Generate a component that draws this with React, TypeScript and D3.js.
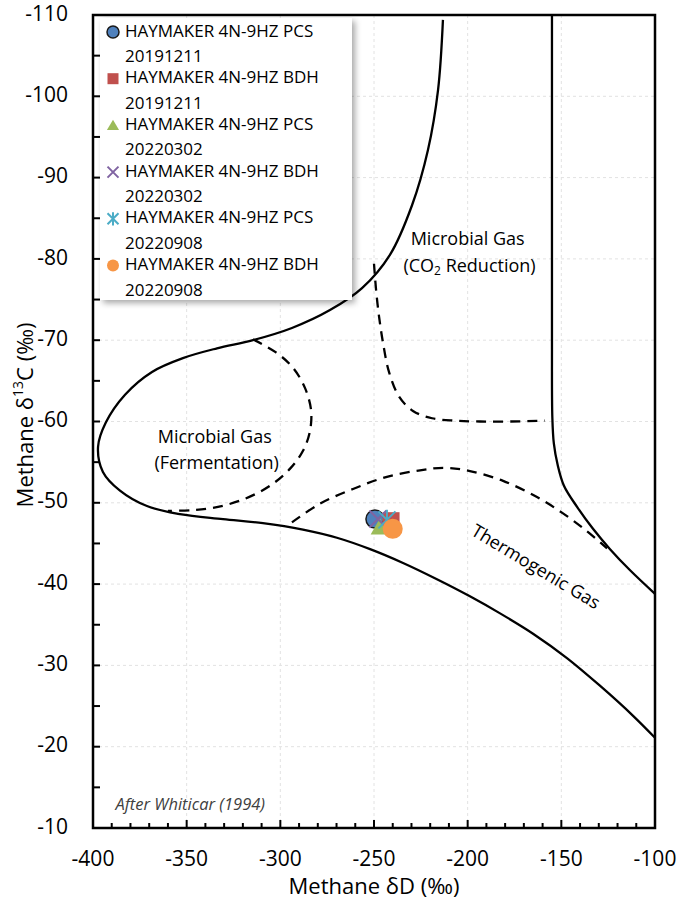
import * as d3 from 'd3';
import { useEffect, useRef } from 'react';

// axis ticks
const xTicks = [-400, -350, -300, -250, -200, -150, -100];
const yTicks = [-110, -100, -90, -80, -70, -60, -50, -40, -30, -20, -10];

// sample points (δD, δ13C)
const seriesNames = [
  'HAYMAKER 4N-9HZ PCS',
  'HAYMAKER 4N-9HZ BDH',
  'HAYMAKER 4N-9HZ PCS',
  'HAYMAKER 4N-9HZ BDH',
  'HAYMAKER 4N-9HZ PCS',
  'HAYMAKER 4N-9HZ BDH',
];
const seriesDates = ['20191211', '20191211', '20220302', '20220302', '20220908', '20220908'];
const seriesD = [-249.5, -240.9, -246.8, -247.9, -243.1, -240.0];
const seriesC = [-48.0, -47.8, -47.0, -48.0, -47.9, -46.8];
const seriesColors = ['#4F81BD', '#C0504D', '#9BBB59', '#8064A2', '#4BACC6', '#F79646'];
const seriesShapes = ['circle', 'square', 'triangle', 'x', 'star', 'circle'];

// Whiticar (1994) field boundaries
const boundaryLeft: [number, number][] = [
  [-213.2, -109.4], [-215.8, -100.8], [-221.2, -93.4], [-229.7, -86.6], [-241.5, -80.5],
  [-256.4, -76.4], [-273.5, -73.7], [-293.8, -71.5], [-314.6, -70.0], [-333.8, -69.0],
  [-352.0, -67.8], [-368.5, -66.1], [-382.9, -63.3], [-393.1, -59.9], [-397.3, -56.9],
  [-394.7, -53.8], [-385.6, -51.5], [-371.2, -49.6], [-353.6, -48.6], [-330.6, -48.0],
  [-309.3, -47.5], [-287.9, -46.7], [-269.8, -45.7], [-252.1, -44.3], [-234.5, -42.6],
  [-216.4, -40.6], [-198.8, -38.5], [-182.7, -36.4], [-165.1, -33.9], [-147.0, -30.9],
  [-129.4, -27.5], [-111.7, -23.8], [-100.0, -21.1],
];
const boundaryRight: [number, number][] = [
  [-155.0, -110], [-155.0, -95], [-155.0, -81.1], [-155.0, -70], [-154.8, -60.5],
  [-154.0, -57.3], [-152.0, -54.7], [-148.6, -52.1], [-141.6, -49.5], [-133.1, -46.8],
  [-124.0, -44.3], [-113.3, -41.7], [-100.0, -38.8],
];
const dashFermentation: [number, number][] = [
  [-314.6, -70.1], [-302.3, -68.5], [-293.2, -66.6], [-286.8, -64.1], [-283.6, -61.4],
  [-284.2, -58.8], [-287.9, -56.4], [-294.8, -54.2], [-305.5, -52.1], [-318.9, -50.5],
  [-333.3, -49.5], [-347.2, -49.1], [-360.0, -49.0],
];
const dashCO2: [number, number][] = [
  [-250.0, -79.4], [-248.9, -76.2], [-247.3, -72.9], [-245.2, -69.7], [-242.0, -66.1],
  [-236.7, -63.1], [-229.2, -61.3], [-219.0, -60.4], [-206.8, -60.1], [-193.4, -60.0],
  [-177.4, -60.0], [-158.7, -60.1],
];
const dashThermogenic: [number, number][] = [
  [-293.8, -47.6], [-278.8, -49.9], [-261.2, -51.7], [-243.1, -53.2], [-225.4, -54.0],
  [-212.1, -54.3], [-198.8, -53.9], [-181.1, -52.7], [-163.0, -50.7], [-149.1, -48.7],
  [-136.3, -46.5], [-125.6, -44.4],
];

const W = 695;
const H = 908;
const FONT = '"Open Sans", "Noto Sans", sans-serif';

function drawMarker(g: d3.Selection<SVGGElement, unknown, null, undefined>, shape: string, color: string, s: number) {
  if (shape === 'circle') {
    g.append('circle').attr('r', s).attr('fill', color)
      .attr('stroke', color === '#4F81BD' ? '#1a1a1a' : 'none').attr('stroke-width', 1.5);
  } else if (shape === 'square') {
    g.append('rect').attr('x', -s).attr('y', -s).attr('width', 2 * s).attr('height', 2 * s).attr('fill', color);
  } else if (shape === 'triangle') {
    g.append('path').attr('d', `M0,${-s * 1.05}L${s * 1.1},${s * 0.85}L${-s * 1.1},${s * 0.85}Z`).attr('fill', color);
  } else if (shape === 'x') {
    g.append('path').attr('d', `M${-s},${-s}L${s},${s}M${-s},${s}L${s},${-s}`)
      .attr('stroke', color).attr('stroke-width', 2).attr('fill', 'none');
  } else if (shape === 'star') {
    g.append('path').attr('d', `M${-s},${-s}L${s},${s}M${-s},${s}L${s},${-s}M0,${-s * 1.2}L0,${s * 1.2}`)
      .attr('stroke', color).attr('stroke-width', 2).attr('fill', 'none');
  }
}

export default function App() {
  const svgRef = useRef<SVGSVGElement>(null);

  useEffect(() => {
    const svg = d3.select(svgRef.current);
    svg.selectAll('*').remove();

    const left = 93, right = 655, top = 15, bottom = 828;

    const x = d3.scaleLinear().domain([-400, -100]).range([left, right]);
    const y = d3.scaleLinear().domain([-110, -10]).range([top, bottom]);

    const defs = svg.append('defs');
    const f = defs.append('filter').attr('id', 'shadow').attr('x', '-10%').attr('y', '-10%')
      .attr('width', '130%').attr('height', '130%');
    f.append('feDropShadow').attr('dx', 3).attr('dy', 3).attr('stdDeviation', 3)
      .attr('flood-color', '#000').attr('flood-opacity', 0.35);

    // gridlines
    svg.append('g').selectAll('line.gx').data(xTicks.slice(1, -1)).join('line')
      .attr('x1', d => x(d)).attr('x2', d => x(d)).attr('y1', top).attr('y2', bottom)
      .attr('stroke', '#e2e2e2').attr('stroke-dasharray', '3 3');
    svg.append('g').selectAll('line.gy').data(yTicks.slice(1, -1)).join('line')
      .attr('x1', left).attr('x2', right).attr('y1', d => y(d)).attr('y2', d => y(d))
      .attr('stroke', '#e2e2e2').attr('stroke-dasharray', '3 3');

    const line = d3.line<[number, number]>()
      .x(d => x(d[0])).y(d => y(d[1]))
      .curve(d3.curveCatmullRom.alpha(0.5));

    const curves = svg.append('g').attr('fill', 'none').attr('stroke', '#000');
    curves.append('path').attr('d', line(boundaryLeft)).attr('stroke-width', 2.3);
    curves.append('path').attr('d', line(boundaryRight)).attr('stroke-width', 2.3);
    [dashFermentation, dashCO2, dashThermogenic].forEach(c => {
      curves.append('path').attr('d', line(c)).attr('stroke-width', 2.3).attr('stroke-dasharray', '10 7');
    });

    // region labels
    const lbl = svg.append('g').attr('font-family', FONT).attr('font-size', 18).attr('fill', '#000')
      .attr('text-anchor', 'middle');
    lbl.append('text').attr('x', x(-335)).attr('y', y(-58.0)).attr('dominant-baseline', 'middle').text('Microbial Gas');
    lbl.append('text').attr('x', x(-334)).attr('y', y(-54.7)).attr('dominant-baseline', 'middle').text('(Fermentation)');
    lbl.append('text').attr('x', x(-200)).attr('y', y(-82.3)).attr('dominant-baseline', 'middle').text('Microbial Gas');
    const co2 = lbl.append('text').attr('x', x(-199)).attr('y', y(-79.0)).attr('dominant-baseline', 'middle');
    co2.append('tspan').text('(CO');
    co2.append('tspan').attr('font-size', 12).attr('dy', 5).text('2');
    co2.append('tspan').attr('dy', -5).text(' Reduction)');
    lbl.append('text')
      .attr('transform', `translate(${x(-164)},${y(-42.0)}) rotate(31)`)
      .attr('dominant-baseline', 'middle').text('Thermogenic Gas');

    lbl.append('text').attr('x', x(-388)).attr('y', y(-12.8)).attr('text-anchor', 'start')
      .attr('dominant-baseline', 'middle').attr('font-size', 16.5).attr('font-style', 'italic')
      .attr('fill', '#404040').text('After Whiticar (1994)');

    // sample points
    seriesD.forEach((d, i) => {
      const g = svg.append('g').attr('transform', `translate(${x(d)},${y(seriesC[i])})`);
      const size = seriesShapes[i] === 'circle' ? (i === 5 ? 10 : 9) : 8.5;
      drawMarker(g, seriesShapes[i], seriesColors[i], size);
    });

    // legend
    const lg = svg.append('g');
    lg.append('rect').attr('x', 100).attr('y', 18).attr('width', 252).attr('height', 282)
      .attr('fill', '#fff').attr('filter', 'url(#shadow)');
    seriesNames.forEach((name, i) => {
      const cy = 32 + i * 46.7;
      const mg = lg.append('g').attr('transform', `translate(113,${cy})`);
      const s = seriesShapes[i] === 'circle' ? 6 : 5.5;
      drawMarker(mg, seriesShapes[i], seriesColors[i], s);
      lg.append('text').attr('x', 125).attr('y', cy).attr('dominant-baseline', 'middle')
        .attr('font-family', FONT).attr('font-size', 17).text(name);
      lg.append('text').attr('x', 125).attr('y', cy + 25.5).attr('dominant-baseline', 'middle')
        .attr('font-family', FONT).attr('font-size', 17).text(seriesDates[i]);
    });

    // axes frame and ticks
    const ax = svg.append('g').attr('stroke', '#000');
    ax.append('rect').attr('x', left).attr('y', top).attr('width', right - left).attr('height', bottom - top)
      .attr('fill', 'none').attr('stroke-width', 2.5);
    const xMinor = d3.range(-400, -99, 10);
    ax.selectAll('line.xt').data(xMinor).join('line')
      .attr('x1', d => x(d)).attr('x2', d => x(d))
      .attr('y1', bottom).attr('y2', d => bottom - (d % 50 === 0 ? 8 : 5))
      .attr('stroke-width', 2);
    const yMinor = d3.range(-110, -9, 5);
    ax.selectAll('line.yt').data(yMinor).join('line')
      .attr('x1', left).attr('x2', left + 7)
      .attr('y1', d => y(d)).attr('y2', d => y(d))
      .attr('stroke-width', 2);

    const tl = svg.append('g').attr('font-family', FONT).attr('font-size', 21).attr('fill', '#000');
    tl.selectAll('text.xl').data(xTicks).join('text')
      .attr('x', d => x(d)).attr('y', 860).attr('text-anchor', 'middle').attr('dominant-baseline', 'middle')
      .text(d => String(d));
    tl.selectAll('text.yl').data(yTicks).join('text')
      .attr('x', 68).attr('y', d => y(d)).attr('text-anchor', 'end').attr('dominant-baseline', 'middle')
      .text(d => String(d));

    // axis titles
    tl.append('text').attr('x', (left + right) / 2).attr('y', 888).attr('text-anchor', 'middle')
      .attr('dominant-baseline', 'middle').attr('font-size', 22).text('Methane δD (‰)');
    const yt = tl.append('text').attr('transform', `translate(27,415) rotate(-90)`)
      .attr('text-anchor', 'middle').attr('dominant-baseline', 'middle').attr('font-size', 22);
    yt.append('tspan').text('Methane δ');
    yt.append('tspan').attr('font-size', 14).attr('dy', -8).text('13');
    yt.append('tspan').attr('dy', 8).text('C (‰)');
  }, []);

  return (
    <svg
      ref={svgRef}
      width={W}
      height={H}
      viewBox={`0 0 ${W} ${H}`}
      style={{ position: 'absolute', left: 0, top: 0, background: '#fff' }}
    />
  );
}
